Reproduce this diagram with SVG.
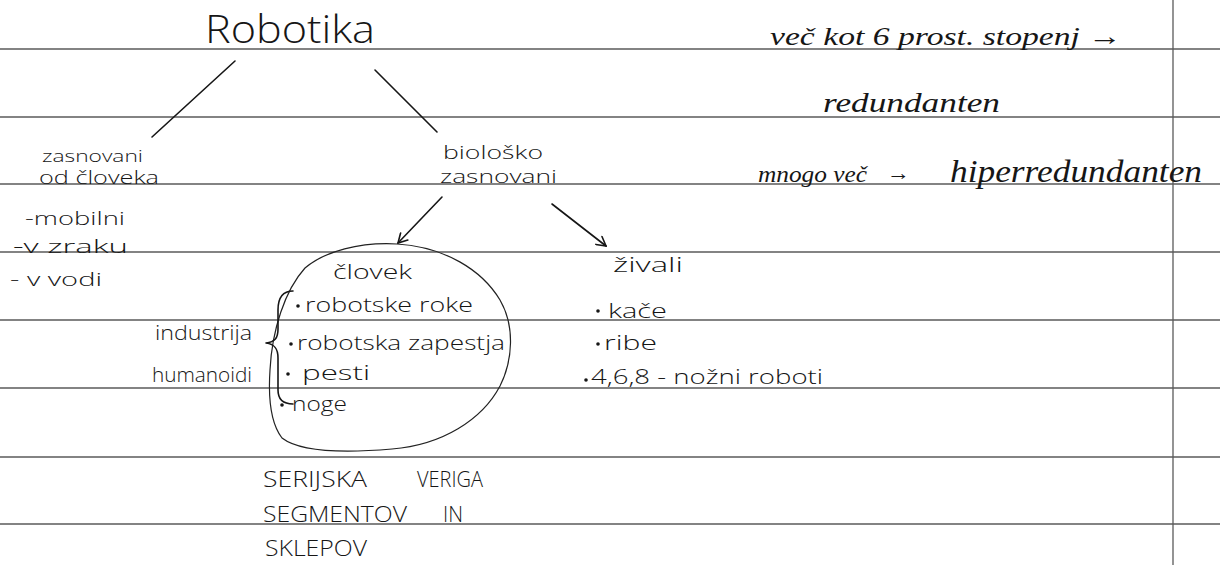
<svg xmlns="http://www.w3.org/2000/svg" width="1220" height="565" viewBox="0 0 1220 565">
  <style>
    .rule { stroke: #5a5a5a; stroke-width: 1.3; fill: none; }
    .ink { fill: #161616; font-family: "Open Sans", "Liberation Sans", sans-serif; font-weight: 300; }
    .script { fill: #161616; font-family: "Liberation Serif", "DejaVu Serif", serif; font-style: italic; }
    .pen { stroke: #161616; stroke-width: 1.6; fill: none; stroke-linecap: round; stroke-linejoin: round; }
    .thin { stroke: #222; stroke-width: 1.2; fill: none; }
    .dot { fill: #161616; }
  </style>
  <defs>
    <marker id="head" viewBox="0 0 12 12" refX="11" refY="6" markerWidth="12" markerHeight="12" markerUnits="userSpaceOnUse" orient="auto">
      <polyline points="2,1 11,6 2,11" fill="none" stroke="#161616" stroke-width="1.6" stroke-linecap="round"/>
    </marker>
  </defs>

  <rect width="1220" height="565" fill="#ffffff"/>

  <!-- notebook ruling -->
  <g id="ruling">
    <line class="rule" x1="0" y1="49" x2="1220" y2="49"/>
    <line class="rule" x1="0" y1="117" x2="1220" y2="117"/>
    <line class="rule" x1="0" y1="184" x2="1220" y2="184"/>
    <line class="rule" x1="0" y1="252" x2="1220" y2="252"/>
    <line class="rule" x1="0" y1="320" x2="1220" y2="320"/>
    <line class="rule" x1="0" y1="388" x2="1220" y2="388"/>
    <line class="rule" x1="0" y1="457" x2="1220" y2="457"/>
    <line class="rule" x1="0" y1="524" x2="1220" y2="524"/>
    <line class="rule" x1="1173" y1="0" x2="1173" y2="565"/>
  </g>

  <!-- connectors -->
  <g id="connectors">
    <line class="pen" x1="235" y1="61" x2="152" y2="137"/>
    <line class="pen" x1="375" y1="70" x2="437" y2="132"/>
    <line class="pen" x1="442" y1="197" x2="398" y2="243" marker-end="url(#head)"/>
    <line class="pen" x1="552" y1="204" x2="606" y2="246" marker-end="url(#head)"/>
  </g>

  <g id="robotika">
    <text class="ink" x="205" y="43" font-size="38" textLength="170" lengthAdjust="spacingAndGlyphs">Robotika</text>
  </g>

  <g id="zasnovani-od-cloveka">
    <text class="ink" x="42" y="162" font-size="16" textLength="101" lengthAdjust="spacingAndGlyphs">zasnovani</text>
    <text class="ink" x="39" y="184" font-size="18" textLength="120" lengthAdjust="spacingAndGlyphs">od človeka</text>
    <text class="ink" x="25" y="225" font-size="19" textLength="100" lengthAdjust="spacingAndGlyphs">-mobilni</text>
    <text class="ink" x="13" y="253" font-size="19" textLength="115" lengthAdjust="spacingAndGlyphs">-v zraku</text>
    <text class="ink" x="10" y="286" font-size="19" textLength="92" lengthAdjust="spacingAndGlyphs">- v vodi</text>
  </g>

  <g id="biolosko-zasnovani">
    <text class="ink" x="443" y="159" font-size="19" textLength="100" lengthAdjust="spacingAndGlyphs">biološko</text>
    <text class="ink" x="440" y="183" font-size="18" textLength="117" lengthAdjust="spacingAndGlyphs">zasnovani</text>
  </g>

  <g id="clovek">
    <path class="thin" d="M397,244 C445,247 482,270 500,300 C515,326 513,360 500,386 C482,420 442,445 392,449 C345,453 300,452 282,438 C272,425 268,400 270,370 C272,330 285,290 305,268 C325,251 360,242 397,244 Z"/>
    <text class="ink" x="333" y="279" font-size="21" textLength="79" lengthAdjust="spacingAndGlyphs">človek</text>
    <circle class="dot" cx="298" cy="306" r="1.8"/>
    <text class="ink" x="305" y="312" font-size="21" textLength="168" lengthAdjust="spacingAndGlyphs">robotske roke</text>
    <circle class="dot" cx="291" cy="344" r="1.8"/>
    <text class="ink" x="297" y="350" font-size="20" textLength="208" lengthAdjust="spacingAndGlyphs">robotska zapestja</text>
    <circle class="dot" cx="288" cy="374" r="1.8"/>
    <text class="ink" x="302" y="380" font-size="21" textLength="68" lengthAdjust="spacingAndGlyphs">pesti</text>
    <circle class="dot" cx="282" cy="405" r="1.8"/>
    <text class="ink" x="292" y="411" font-size="21" textLength="55" lengthAdjust="spacingAndGlyphs">noge</text>
  </g>

  <g id="uporaba">
    <path class="pen" d="M293,291 C283,291 278,297 278,310 L278,329 C278,338 275,342 266,343 C275,344 278,349 278,358 L278,390 C278,399 283,404 293,404"/>
    <text class="ink" x="155" y="340" font-size="20" textLength="97" lengthAdjust="spacingAndGlyphs">industrija</text>
    <text class="ink" x="152" y="382" font-size="20" textLength="100" lengthAdjust="spacingAndGlyphs">humanoidi</text>
  </g>

  <g id="zivali">
    <text class="ink" x="613" y="272" font-size="21" textLength="70" lengthAdjust="spacingAndGlyphs">živali</text>
    <circle class="dot" cx="598" cy="311" r="1.8"/>
    <text class="ink" x="608" y="318" font-size="21" textLength="59" lengthAdjust="spacingAndGlyphs">kače</text>
    <circle class="dot" cx="598" cy="344" r="1.8"/>
    <text class="ink" x="604" y="350" font-size="21" textLength="53" lengthAdjust="spacingAndGlyphs">ribe</text>
    <circle class="dot" cx="586" cy="380" r="1.8"/>
    <text class="ink" x="591" y="384" font-size="20" textLength="232" lengthAdjust="spacingAndGlyphs">4,6,8 - nožni roboti</text>
  </g>

  <g id="serijska-veriga">
    <text class="ink" x="263" y="487" font-size="22" textLength="104" lengthAdjust="spacingAndGlyphs">SERIJSKA</text>
    <text class="ink" x="417" y="487" font-size="22" textLength="66" lengthAdjust="spacingAndGlyphs">VERIGA</text>
    <text class="ink" x="263" y="522" font-size="22" textLength="144" lengthAdjust="spacingAndGlyphs">SEGMENTOV</text>
    <text class="ink" x="443" y="522" font-size="22" textLength="20" lengthAdjust="spacingAndGlyphs">IN</text>
    <text class="ink" x="265" y="556" font-size="22" textLength="102" lengthAdjust="spacingAndGlyphs">SKLEPOV</text>
  </g>

  <g id="redundanca">
    <text class="script" x="770" y="45" font-size="26" textLength="352" lengthAdjust="spacingAndGlyphs">več kot 6 prost. stopenj →</text>
    <text class="script" x="823" y="112" font-size="28" textLength="177" lengthAdjust="spacingAndGlyphs">redundanten</text>
    <text class="script" x="758" y="182" font-size="24" textLength="109" lengthAdjust="spacingAndGlyphs">mnogo več</text>
    <text class="script" x="887" y="180" font-size="22" textLength="23" lengthAdjust="spacingAndGlyphs">→</text>
    <text class="script" x="950" y="182" font-size="32" textLength="252" lengthAdjust="spacingAndGlyphs">hiperredundanten</text>
  </g>
</svg>
